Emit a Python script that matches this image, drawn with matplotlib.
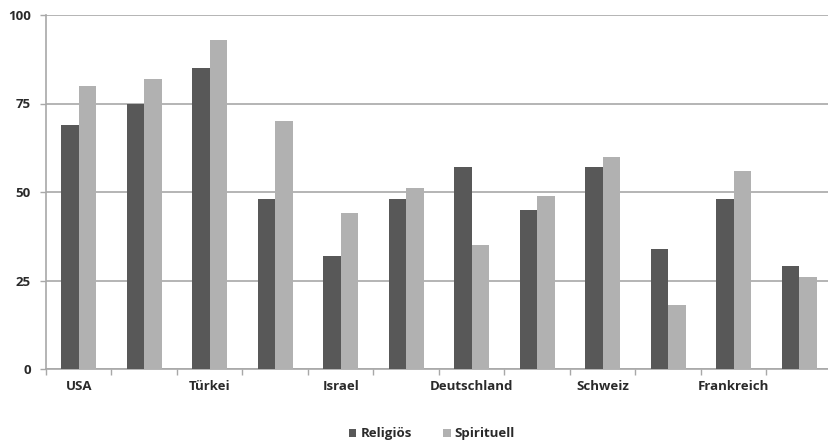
import matplotlib
matplotlib.use("Agg")
import matplotlib.pyplot as plt
import numpy as np

categories = ["USA", "", "Türkei", "", "Israel", "", "Deutschland", "", "Schweiz", "", "Frankreich", ""]
religioes = [69, 75, 85, 48, 32, 48, 57, 45, 57, 34, 48, 29]
spirituell = [80, 82, 93, 70, 44, 51, 35, 49, 60, 18, 56, 26]
series_names = ["Religiös", "Spirituell"]
y_ticks = [0, 25, 50, 75, 100]

plt.rcParams['font.family'] = ['Open Sans', 'DejaVu Sans']

fig = plt.figure(figsize=(8.29, 4.42), dpi=100)
W, H = 829, 442
left, right, top, bottom = 46, 832, 15, 369
ax = fig.add_axes([left / W, 1 - bottom / H, (right - left) / W, (bottom - top) / H])

x = np.arange(len(categories))
bw = 0.27
ax.bar(x - bw / 2, religioes, bw, color="#585858", label=series_names[0], zorder=3)
ax.bar(x + bw / 2, spirituell, bw, color="#b1b1b1", label=series_names[1], zorder=3)

ax.set_xlim(-0.5, len(categories) - 0.5)
ax.set_ylim(0, 100)
ax.set_yticks(y_ticks)
ax.set_yticklabels([str(t) for t in y_ticks], fontsize=9.5, fontweight="bold", color="#2a2a2a")
ax.yaxis.grid(True, color="#a8a8a8", linewidth=1.2, zorder=0)
ax.set_axisbelow(True)

ax.set_xticks(x)
ax.set_xticklabels(categories, fontsize=9.5, fontweight="bold", color="#2a2a2a")
ax.tick_params(axis="x", length=0, pad=8)
ax.set_xticks(np.arange(len(categories) + 1) - 0.5, minor=True)
ax.tick_params(axis="x", which="minor", length=4, color="#a8a8a8", width=1)
ax.tick_params(axis="y", length=4, color="#a8a8a8", width=1, pad=7)

for s in ["top", "right"]:
    ax.spines[s].set_visible(False)
for s in ["left", "bottom"]:
    ax.spines[s].set_color("#a8a8a8")
    ax.spines[s].set_linewidth(1.2)

fig.legend(loc="center", bbox_to_anchor=(432 / W, 1 - 434 / H), ncol=2, frameon=False,
           handlelength=0.55, handleheight=0.55, handletextpad=0.3,
           columnspacing=2.4, prop={"weight": "bold", "size": 9.5})
for t in fig.legends[0].get_texts():
    t.set_color("#2a2a2a")

fig.savefig("out.png", dpi=100)
